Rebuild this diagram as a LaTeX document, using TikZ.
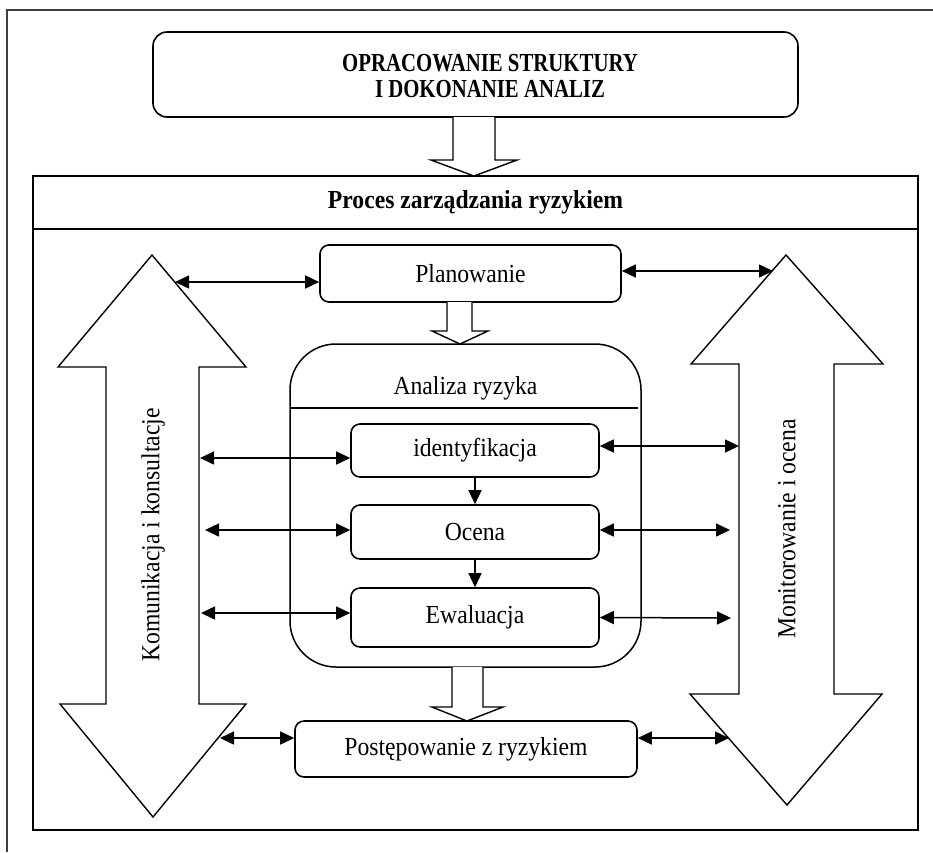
\documentclass[tikz,border=0pt]{standalone}
\usepackage{fontspec}
\setmainfont{Liberation Serif}[FakeStretch=0.91]
\newfontfamily\condserif{Liberation Serif}[FakeStretch=0.8]
\usetikzlibrary{arrows.meta}
\tikzset{
  box/.style={draw, line width=1.6pt, rounded corners=9pt, font=\fontsize{26}{30}\selectfont, inner sep=0pt},
  dbl/.style={line width=1.5pt, {Triangle[length=14pt,width=13pt]}-{Triangle[length=14pt,width=13pt]}},
  one/.style={line width=1.5pt, -{Triangle[length=14pt,width=13pt]}},
  hollow/.style={draw, line width=1.4pt, fill=white, line join=miter},
  bigarrow/.style={draw, line width=1.4pt, line join=miter},
  txt/.style={font=\fontsize{26}{30}\selectfont, inner sep=0pt},
}
\begin{document}
\begin{tikzpicture}[x=1pt,y=-1pt]
\useasboundingbox (0,0) rectangle (933,852);
\fill[white] (0,0) rectangle (933,852);
% page frame
\draw[black!75, line width=1.8pt] (7,852) -- (7,10) -- (933,10);

% top box
\node[box, rounded corners=14pt, minimum width=645pt, minimum height=85pt] (top) at (475.5,74.5) {};
\node[inner sep=0pt, align=center, font=\condserif\bfseries\fontsize{26}{26}\selectfont] (toptxt) at (490,76) {OPRACOWANIE STRUKTURY\\I DOKONANIE ANALIZ};

% outer process box
\node[draw, line width=1.8pt, minimum width=885pt, minimum height=654pt, inner sep=0pt] (proc) at (475.5,503) {};
\draw[line width=1.6pt] (33,229) -- (918,229);
\node[txt, font=\bfseries\fontsize{26}{30}\selectfont] (proctxt) at (475.5,202.5) {Proces zarządzania ryzykiem};

% hollow arrow top -> process
\path[hollow] (453,117) -- (453,160) -- (431,160) -- (474,176) -- (517,160) -- (495,160) -- (495,117);

% big side arrows
\path[bigarrow] (152,255) -- (246,367) -- (199,367) -- (199,704) -- (246,704) -- (153,817) -- (60,704) -- (106,704) -- (106,367) -- (58,367) -- cycle;
\path[bigarrow] (786,255) -- (883,364) -- (834,364) -- (834,694) -- (882,694) -- (787,805) -- (690,694) -- (739,694) -- (739,364) -- (691,364) -- cycle;
\node[txt, rotate=90] (kom) at (153,535) {Komunikacja i konsultacje};
\node[txt, rotate=90] (mon) at (787,529) {Monitorowanie i ocena};

% Planowanie
\node[box, minimum width=301pt, minimum height=57pt] (plan) at (470.5,273.5) {Planowanie};

% Analiza ryzyka container
\node[draw, line width=1.5pt, rounded corners=46pt, minimum width=351pt, minimum height=323pt, inner sep=0pt] (anal) at (465.5,505.5) {};
\draw[line width=1.5pt] (290,408) -- (638,408);
\node[txt, anchor=base] (analtxt) at (465.5,394) {Analiza ryzyka};

\path[hollow] (447,302) -- (447,331) -- (432,331) -- (460,344) -- (488,331) -- (472,331) -- (472,302);

\node[box, minimum width=248pt, minimum height=53pt] (iden) at (475,450.5) {identyfikacja};
\node[box, minimum width=248pt, minimum height=54pt] (ocena) at (475,532) {Ocena};
\node[box, minimum width=248pt, minimum height=59pt] (ewal) at (475,617.5) {Ewaluacja};

\draw[one] (iden.south) -- (ocena.north);
\draw[one] (ocena.south) -- (ewal.north);

% Postepowanie
\path[hollow] (452,667) -- (452,707) -- (432,707) -- (467,721) -- (503,707) -- (483,707) -- (483,667);
\node[box, minimum width=342pt, minimum height=56pt] (post) at (466,749) {Postępowanie z ryzykiem};

% connector end points on the big arrows
\coordinate (kP) at (175,282);
\coordinate (kI) at (200,458);
\coordinate (kO) at (205,530);
\coordinate (kE) at (201,613);
\coordinate (kT) at (220,738);
\coordinate (mP) at (773,271);
\coordinate (mI) at (739,446);
\coordinate (mO) at (730,530);
\coordinate (mE) at (731,618);
\coordinate (mT) at (729,738);

\draw[dbl] (kP) -- (kP -| plan.west);
\draw[dbl] (kI) -- (kI -| iden.west);
\draw[dbl] (kO) -- (kO -| ocena.west);
\draw[dbl] (kE) -- (kE -| ewal.west);
\draw[dbl] (kT) -- (kT -| post.west);

\draw[dbl] (mP -| plan.east) -- (mP);
\draw[dbl] (mI -| iden.east) -- (mI);
\draw[dbl] (mO -| ocena.east) -- (mO);
\draw[dbl] (ewal.east) -- (mE);
\draw[dbl] (mT -| post.east) -- (mT);
\end{tikzpicture}
\end{document}
